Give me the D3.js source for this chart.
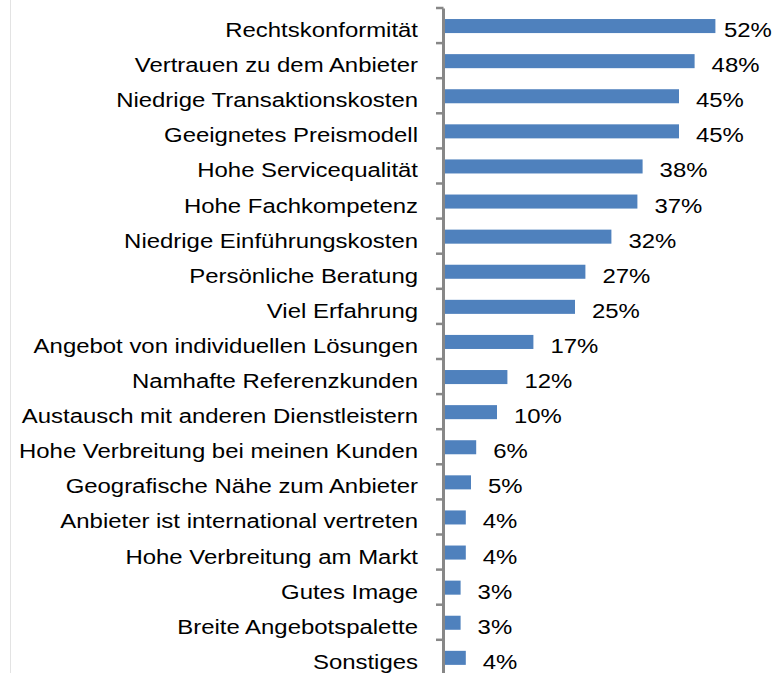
<!DOCTYPE html>
<html>
<head>
<meta charset="utf-8">
<script src="https://cdn.jsdelivr.net/npm/d3@7"></script>
<style>
  body { margin: 0; background: #fff; }
  text { font-family: "Liberation Sans", Arial, sans-serif; fill: #000; }
</style>
</head>
<body>
<div class="chart"></div>
<script>
const categories = [
  'Rechtskonformität',
  'Vertrauen zu dem Anbieter',
  'Niedrige Transaktionskosten',
  'Geeignetes Preismodell',
  'Hohe Servicequalität',
  'Hohe Fachkompetenz',
  'Niedrige Einführungskosten',
  'Persönliche Beratung',
  'Viel Erfahrung',
  'Angebot von individuellen Lösungen',
  'Namhafte Referenzkunden',
  'Austausch mit anderen Dienstleistern',
  'Hohe Verbreitung bei meinen Kunden',
  'Geografische Nähe zum Anbieter',
  'Anbieter ist international vertreten',
  'Hohe Verbreitung am Markt',
  'Gutes Image',
  'Breite Angebotspalette',
  'Sonstiges'
];
const values = [52, 48, 45, 45, 38, 37, 32, 27, 25, 17, 12, 10, 6, 5, 4, 4, 3, 3, 4];

const w = 782;
const h = 673;
const axisX = 443.5;
const labelRight = 418;
const fontSize = 21;
const stretch = 1.14; // text in the picture is a bit wider than normal

const data = categories.map((c, i) => ({ name: c, value: values[i] }));

const svg = d3.select('.chart')
              .append('svg')
              .attr('width', w)
              .attr('height', h);

// faint frame line on the left
svg.append('line')
   .attr('x1', 10.5).attr('x2', 10.5)
   .attr('y1', 0).attr('y2', h)
   .attr('stroke', '#e3e3e3')
   .attr('stroke-width', 1);

const xScale = d3.scaleLinear()
                 .domain([0, 60])
                 .range([445, 445 + 60 * 5.2]);

const yScale = d3.scaleBand()
                 .domain(categories)
                 .range([8.5, 8.5 + categories.length * 35.1])
                 .paddingInner(0.6)
                 .paddingOuter(0.3);

const step = yScale.step();

svg.selectAll('rect.bar')
   .data(data)
   .enter()
   .append('rect')
   .attr('class', 'bar')
   .attr('x', xScale(0))
   .attr('y', d => yScale(d.name))
   .attr('width', d => xScale(d.value) - xScale(0))
   .attr('height', yScale.bandwidth())
   .attr('fill', '#4f81bd');

// vertical axis with ticks between the categories
const axis = svg.append('g');
axis.append('line')
    .attr('x1', axisX).attr('x2', axisX)
    .attr('y1', yScale.range()[0]).attr('y2', h)
    .attr('stroke', '#878787')
    .attr('stroke-width', 3);

axis.selectAll('line.tick')
    .data(categories)
    .enter()
    .append('line')
    .attr('class', 'tick')
    .attr('x1', axisX - 7.5).attr('x2', axisX)
    .attr('y1', d => yScale(d) - step * yScale.paddingInner() / 2 - 0.5)
    .attr('y2', d => yScale(d) - step * yScale.paddingInner() / 2 - 0.5)
    .attr('stroke', '#878787')
    .attr('stroke-width', 2.5);

const mid = d => yScale(d) + yScale.bandwidth() / 2;

svg.selectAll('text.cat')
   .data(data)
   .enter()
   .append('text')
   .attr('class', 'cat')
   .attr('transform', d => `translate(${labelRight}, ${mid(d.name) + 11}) scale(${stretch}, 1)`)
   .style('text-anchor', 'end')
   .style('font-size', fontSize + 'px')
   .text(d => d.name);

svg.selectAll('text.val')
   .data(data)
   .enter()
   .append('text')
   .attr('class', 'val')
   .attr('transform', d => {
     const lx = Math.min(xScale(d.value) + 17, w - 11 - 47);
     return `translate(${lx}, ${mid(d.name) + 11}) scale(${stretch}, 1)`;
   })
   .style('text-anchor', 'start')
   .style('font-size', fontSize + 'px')
   .text(d => d.value + '%');
</script>
</body>
</html>
